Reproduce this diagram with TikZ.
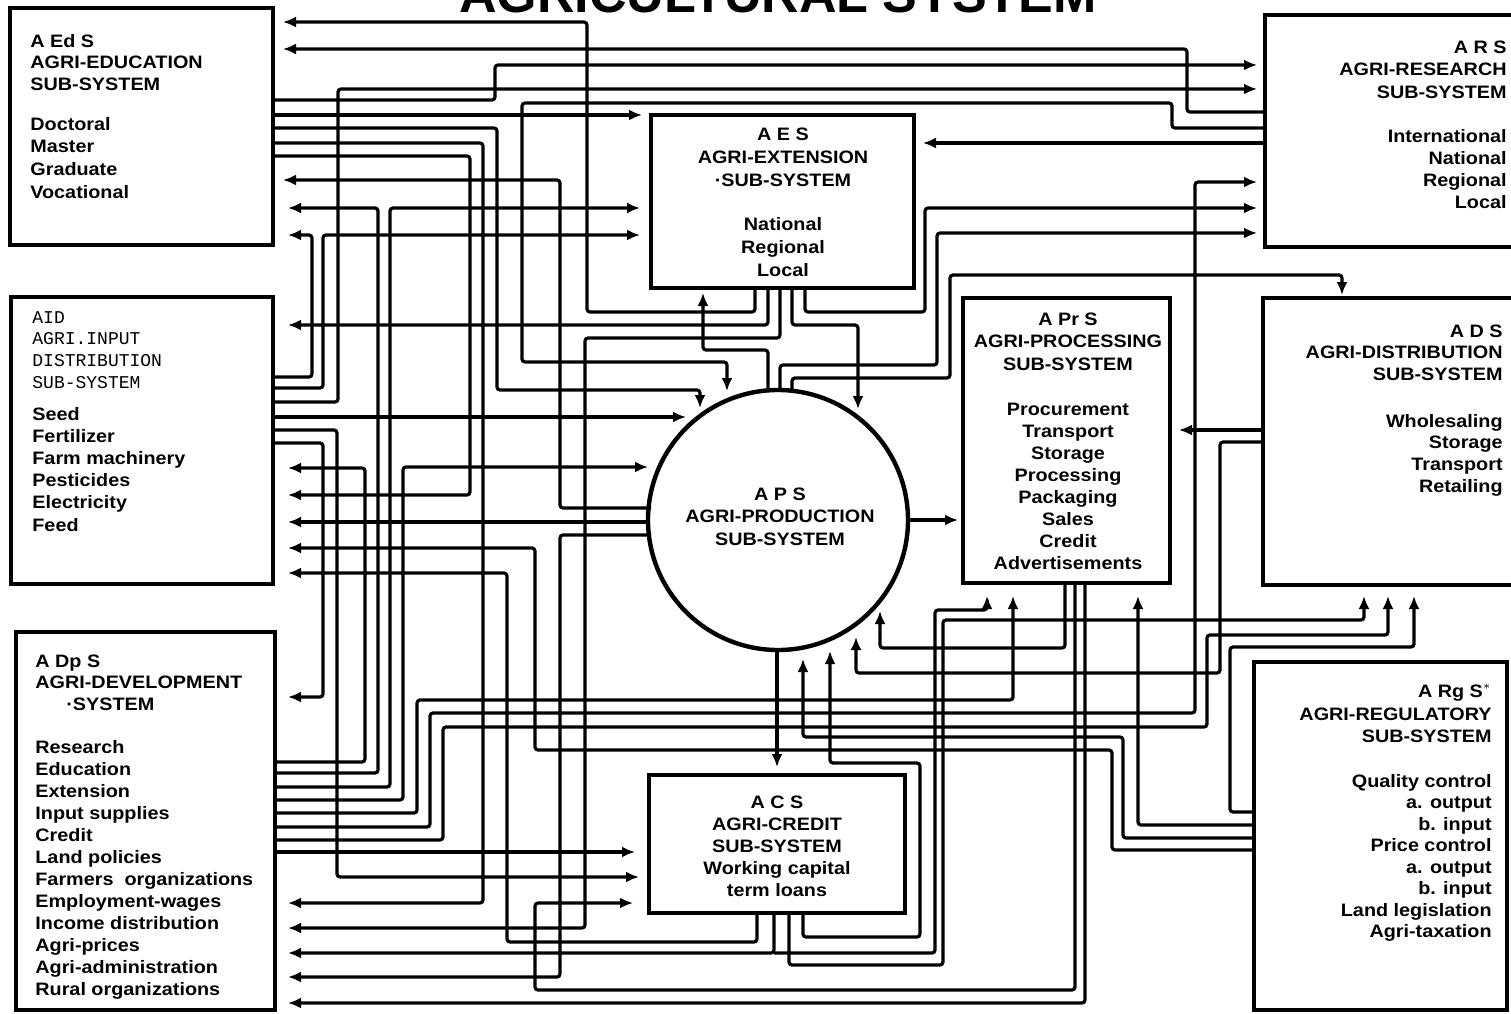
\documentclass[tikz,border=0pt]{standalone}
\usepackage{fontspec}
\setmainfont{Liberation Sans}
\newfontfamily\lblf{Liberation Sans}[FakeStretch=1.1]
\newfontfamily\monof{Liberation Mono}
\usetikzlibrary{arrows.meta,fit}
\begin{document}
\begin{tikzpicture}[x=0.5pt,y=-0.5pt,
  wire/.style={line width=1.6pt, rounded corners=1.5pt},
  arr/.style={wire,-{Latex[length=6.5pt,width=5.5pt]}},
  box/.style={draw, line width=2.4pt, inner sep=0pt},
  lbl/.style={font=\lblf\fontsize{9}{11}\selectfont\bfseries, inner sep=0pt},
  mlbl/.style={font=\fontsize{9}{11}\selectfont\monof, inner sep=0pt},
]
\useasboundingbox (0,0) rectangle (1511,1013);
\clip (0,0) rectangle (1511,1013);
\fill[white] (0,0) rectangle (1511,1013);

% title
\node[font=\fontsize{26}{30}\selectfont\bfseries, anchor=base, inner sep=0pt] (title) at (778,12) {AGRICULTURAL SYSTEM};

% boxes
\node[box, fit={(10,8) (273,245)}] (aeds) {};
\node[box, fit={(11,297) (273,584)}] (aid) {};
\node[box, fit={(16,632) (275,1010)}] (adps) {};
\node[box, fit={(651,115) (914,288)}] (aes) {};
\node[box, fit={(1265,15) (1530,247)}] (ars) {};
\node[box, fit={(963,298) (1170,583)}] (aprs) {};
\node[box, fit={(1263,298) (1530,585)}] (ads) {};
\node[box, fit={(649,775) (905,913)}] (acs) {};
\node[box, fit={(1254,662) (1507,1010)}] (args) {};
\node[draw, circle, line width=2.2pt, minimum size=130pt, inner sep=0pt] (aps) at (778,520) {};

% texts
\foreach \t [count=\i] in {A Ed S, AGRI-EDUCATION, SUB-SYSTEM}
  \node[lbl, anchor=base west] (aedsh\i) at (30,{47+21.5*(\i-1)}) {\t};
\foreach \t [count=\i] in {Doctoral, Master, Graduate, Vocational}
  \node[lbl, anchor=base west] (aedsl\i) at (30,{130+22.7*(\i-1)}) {\t};

\foreach \t [count=\i] in {AID, AGRI.INPUT, DISTRIBUTION, SUB-SYSTEM}
  \node[mlbl, anchor=base west] (aidh\i) at (32,{323+21.7*(\i-1)}) {\t};
\foreach \t [count=\i] in {Seed, Fertilizer, Farm machinery, Pesticides, Electricity, Feed}
  \node[lbl, anchor=base west] (aidl\i) at (32,{420+22.2*(\i-1)}) {\t};

\node[lbl, anchor=base west] (adpsh1) at (35,667) {A Dp S};
\node[lbl, anchor=base west] (adpsh2) at (35,688) {AGRI-DEVELOPMENT};
\node[lbl, anchor=base west] (adpsh3) at (66,710) {·SYSTEM};
\foreach \t [count=\i] in {Research, Education, Extension, Input supplies, Credit, Land policies, Farmers\ \ organizations, Employment-wages, Income distribution, Agri-prices, Agri-administration, Rural organizations}
  \node[lbl, anchor=base west] (adpsl\i) at (35,{753+22*(\i-1)}) {\t};

\foreach \t [count=\i] in {A E S, AGRI-EXTENSION, ·SUB-SYSTEM}
  \node[lbl, anchor=base] (aesh\i) at (783,{140+23*(\i-1)}) {\t};
\foreach \t [count=\i] in {National, Regional, Local}
  \node[lbl, anchor=base] (aesl\i) at (783,{230+23*(\i-1)}) {\t};

\foreach \t [count=\i] in {A R S, AGRI-RESEARCH, SUB-SYSTEM}
  \node[lbl, anchor=base east] (arsh\i) at (1507,{53+22.5*(\i-1)}) {\t};
\foreach \t [count=\i] in {International, National, Regional, Local}
  \node[lbl, anchor=base east] (arsl\i) at (1507,{142+22*(\i-1)}) {\t};

\foreach \t [count=\i] in {A Pr S, AGRI-PROCESSING, SUB-SYSTEM}
  \node[lbl, anchor=base] (aprsh\i) at (1068,{325+22.5*(\i-1)}) {\t};
\foreach \t [count=\i] in {Procurement, Transport, Storage, Processing, Packaging, Sales, Credit, Advertisements}
  \node[lbl, anchor=base] (aprsl\i) at (1068,{415+22.1*(\i-1)}) {\t};

\foreach \t [count=\i] in {A D S, AGRI-DISTRIBUTION, SUB-SYSTEM}
  \node[lbl, anchor=base east] (adsh\i) at (1503,{337+21.5*(\i-1)}) {\t};
\foreach \t [count=\i] in {Wholesaling, Storage, Transport, Retailing}
  \node[lbl, anchor=base east] (adsl\i) at (1503,{427+21.7*(\i-1)}) {\t};

\foreach \t [count=\i] in {A P S, AGRI-PRODUCTION, SUB-SYSTEM}
  \node[lbl, anchor=base] (apsh\i) at (780,{500+22.5*(\i-1)}) {\t};

\foreach \t [count=\i] in {A C S, AGRI-CREDIT, SUB-SYSTEM, Working capital, term loans}
  \node[lbl, anchor=base] (acsl\i) at (777,{808+22*(\i-1)}) {\t};

\node[lbl, anchor=base east] (argsh1) at (1492,697) {A Rg S$^{*}$};
\node[lbl, anchor=base east] (argsh2) at (1492,720) {AGRI-REGULATORY};
\node[lbl, anchor=base east] (argsh3) at (1492,742) {SUB-SYSTEM};
\foreach \t [count=\i] in {Quality control, a. output, b. input, Price control, a. output, b. input, Land legislation, Agri-taxation}
  \node[lbl, anchor=base east] (argsl\i) at (1492,{787+21.5*(\i-1)}) {\t};

% ---------------- wires ----------------
% top band
\draw[arr] (1265,112) -- (1187,112) -- (1187,49) -- (283,49);
\draw[arr] (273,100) -- (495,100) -- (495,65) -- (1257,65);
\draw[arr] (273,402) -- (338,402) -- (338,89) -- (1257,89);
\draw[arr] (1265,128) -- (1172,128) -- (1172,103) -- (522,103) -- (522,362) -- (727,362) -- (727,391);
\draw[arr] (273,115) -- (642,115);
\draw[arr] (273,128) -- (497,128) -- (497,390) -- (700,390) -- (700,408);
\draw[arr] (273,143) -- (483,143) -- (483,903) -- (288,903);
\draw[arr] (273,156) -- (470,156) -- (470,495) -- (288,495);
\draw[arr] (1265,143) -- (923,143);
\draw[arr] (651,508) -- (560,508) -- (560,180) -- (283,180);
\draw[arr] (275,773) -- (378,773) -- (378,208) -- (288,208);
\draw[arr] (275,787) -- (390,787) -- (390,208) -- (640,208);
\draw[arr] (273,377) -- (312,377) -- (312,235) -- (288,235);
\draw[arr] (273,388) -- (323,388) -- (323,235) -- (640,235);
% from AES bottom
\draw[arr] (755,288) -- (755,312) -- (587,312) -- (587,22) -- (283,22);
\draw[arr] (768,288) -- (768,325) -- (288,325);
\draw[arr] (780,288) -- (780,338) -- (585,338) -- (585,928) -- (288,928);
\draw[arr] (792,288) -- (792,325) -- (858,325) -- (858,409);
\draw[arr] (805,288) -- (805,312) -- (925,312) -- (925,208) -- (1257,208);
% from APS top
\draw[arr] (768,391) -- (768,350) -- (703,350) -- (703,293);
\draw[arr] (780,390) -- (780,365) -- (937,365) -- (937,233) -- (1257,233);
\draw[arr] (792,391) -- (792,378) -- (950,378) -- (950,275) -- (1342,275) -- (1342,295);
% from AID
\draw[arr] (273,417) -- (686,417);
\draw[arr] (273,430) -- (337,430) -- (337,877) -- (639,877);
\draw[arr] (273,443) -- (323,443) -- (323,697) -- (288,697);
% from ADpS
\draw[arr] (275,762) -- (365,762) -- (365,468) -- (288,468);
\draw[arr] (275,800) -- (403,800) -- (403,467) -- (648,467);
\draw[arr] (275,852) -- (635,852);
\draw[arr] (275,813) -- (417,813) -- (417,700) -- (1013,700) -- (1013,596);
\draw[arr] (275,827) -- (430,827) -- (430,713) -- (1195,713) -- (1195,182) -- (1257,182);
\draw[arr] (275,840) -- (443,840) -- (443,727) -- (1207,727) -- (1207,635) -- (1388,635) -- (1388,596);
% from APS left / right / bottom
\draw[arr] (648,522) -- (288,522);
\draw[arr] (651,535) -- (560,535) -- (560,977) -- (288,977);
\draw[arr] (908,520) -- (958,520);
\draw[arr] (777,650) -- (777,767);
% ARgS
\draw[arr] (1254,812) -- (1230,812) -- (1230,647) -- (1414,647) -- (1414,596);
\draw[arr] (1254,825) -- (1138,825) -- (1138,596);
\draw[arr] (1254,838) -- (1123,838) -- (1123,737) -- (803,737) -- (803,659);
\draw[arr] (1254,850) -- (1112,850) -- (1112,750) -- (535,750) -- (535,548) -- (288,548);
% APrS
\draw[arr] (1065,583) -- (1065,648) -- (880,648) -- (880,611);
\draw[arr] (1075,583) -- (1075,990) -- (535,990) -- (535,903) -- (633,903);
\draw[arr] (1085,583) -- (1085,1003) -- (288,1003);
% ADS
\draw[arr] (1263,430) -- (1179,430);
\draw[arr] (1263,442) -- (1220,442) -- (1220,673) -- (856,673) -- (856,637);
% ACS
\draw[arr] (803,913) -- (803,937) -- (920,937) -- (920,763) -- (830,763) -- (830,651);
\draw[arr] (757,913) -- (757,942) -- (507,942) -- (507,573) -- (288,573);
\draw[arr] (774,913) -- (774,953) -- (288,953);
\draw[arr] (774,953) -- (935,953) -- (935,610) -- (987,610) -- (987,596);
\draw[arr] (789,913) -- (789,965) -- (943,965) -- (943,620) -- (1364,620) -- (1364,596);
\end{tikzpicture}
\end{document}
